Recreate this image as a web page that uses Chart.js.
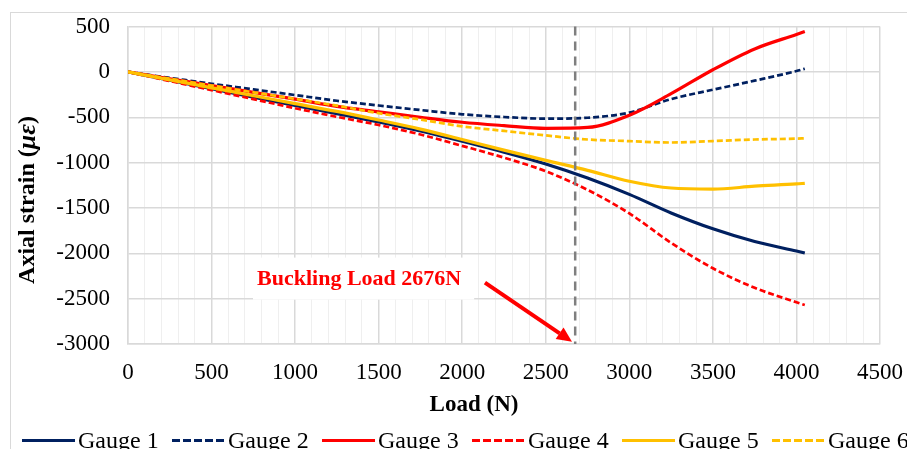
<!DOCTYPE html>
<html><head><meta charset="utf-8">
<script src="https://cdn.jsdelivr.net/npm/chart.js@4/dist/chart.umd.min.js"></script>
<style>html,body{margin:0;padding:0;background:#fff;overflow:hidden}</style>
</head><body>
<canvas id="c" width="907" height="449"></canvas>
<script>
// ---- data ----
const loads  = [0,250,500,750,1000,1250,1500,1750,2000,2250,2500,2750,3000,3250,3500,3750,4000,4050];
const gauge1 = [0,-92,-185,-277,-370,-460,-550,-650,-765,-885,-1015,-1170,-1350,-1555,-1730,-1870,-1975,-1996];
const gauge2 = [0,-65,-130,-192,-255,-318,-370,-420,-467,-497,-515,-505,-448,-300,-196,-96,10,36];
const gauge3 = [0,-75,-150,-225,-300,-380,-440,-500,-555,-592,-622,-612,-478,-240,24,254,413,445];
const gauge4 = [0,-100,-200,-300,-400,-495,-585,-690,-815,-945,-1095,-1300,-1560,-1885,-2165,-2380,-2540,-2570];
const gauge5 = [0,-88,-175,-262,-350,-435,-530,-630,-745,-862,-975,-1085,-1205,-1280,-1292,-1260,-1235,-1228];
const gauge6 = [0,-75,-150,-225,-298,-372,-455,-525,-600,-650,-700,-745,-763,-778,-762,-745,-735,-731];
const seriesNames = ['Gauge 1','Gauge 2','Gauge 3','Gauge 4','Gauge 5','Gauge 6'];
const xTickLabels = ['0','500','1000','1500','2000','2500','3000','3500','4000','4500'];
const yTickLabels = ['500','0','-500','-1000','-1500','-2000','-2500','-3000'];
const bucklingLoad = 2676;
const bucklingText = 'Buckling Load 2676N';
// annotation anchor points in data units
const arrowFrom = {x: 2136, y: -2323};
const arrowTo   = {x: 2657, y: -2975};
const labelAt   = {x: 772,  y: -2290};

const NAVY='#002060', RED='#FF0000', GOLD='#FFC000';
const allSeries = [gauge1,gauge2,gauge3,gauge4,gauge5,gauge6];
const colors = [NAVY,NAVY,RED,RED,GOLD,GOLD];
const dashed = [false,true,false,true,false,true];

const datasets = allSeries.map((s,i)=>({
  label: seriesNames[i],
  data: loads.map((l,k)=>({x:l, y:s[k]})),
  borderColor: colors[i],
  backgroundColor: colors[i],
  borderWidth: dashed[i] ? 2.7 : 3.2,
  borderDash: dashed[i] ? [6,3] : [],
  pointRadius: 0,
  cubicInterpolationMode: 'monotone',
  fill: false,
  order: 6 - i
}));

const xMin = Number(xTickLabels[0]), xMax = Number(xTickLabels[xTickLabels.length-1]);
const yMax = Number(yTickLabels[0]), yMin = Number(yTickLabels[yTickLabels.length-1]);
const xMajor = Number(xTickLabels[1]) - xMin;
const xMinorStep = xMajor / 5;
const yStep = Number(yTickLabels[0]) - Number(yTickLabels[1]);

const SERIF = '"Liberation Serif","Times New Roman",serif';

const extras = {
  id: 'extras',
  beforeDraw(chart){
    const ctx = chart.ctx;
    ctx.save();
    ctx.fillStyle = '#fff'; ctx.fillRect(0,0,chart.width,chart.height);
    ctx.strokeStyle = '#d9d9d9'; ctx.lineWidth = 1;
    ctx.strokeRect(10.5, 12.5, 2000, 2000);
    ctx.restore();
  },
  afterDatasetsDraw(chart){
    const {ctx, scales:{x,y}, chartArea:a} = chart;
    ctx.save();
    // buckling load vertical dashed line
    const px = x.getPixelForValue(bucklingLoad);
    ctx.strokeStyle = '#7f7f7f'; ctx.lineWidth = 2.5; ctx.setLineDash([9,6]);
    ctx.beginPath(); ctx.moveTo(px, a.top); ctx.lineTo(px, a.bottom); ctx.stroke();
    ctx.setLineDash([]);
    // label with white box
    ctx.font = 'bold 22px ' + SERIF;
    const tx = x.getPixelForValue(labelAt.x), ty = y.getPixelForValue(labelAt.y);
    const tw = ctx.measureText(bucklingText).width;
    ctx.fillStyle = '#fff';
    ctx.fillRect(tx - 4, ty - 22, tw + 17, 42);
    ctx.fillStyle = RED; ctx.textBaseline = 'middle'; ctx.textAlign = 'left';
    ctx.fillText(bucklingText, tx, ty);
    // arrow
    const x1 = x.getPixelForValue(arrowFrom.x), y1 = y.getPixelForValue(arrowFrom.y);
    const x2 = x.getPixelForValue(arrowTo.x),   y2 = y.getPixelForValue(arrowTo.y);
    const ang = Math.atan2(y2-y1, x2-x1);
    const hl = 15, hw = 7;
    const bx = x2 - hl*Math.cos(ang), by = y2 - hl*Math.sin(ang);
    ctx.strokeStyle = RED; ctx.lineWidth = 4; ctx.lineCap = 'butt';
    ctx.beginPath(); ctx.moveTo(x1,y1); ctx.lineTo(bx,by); ctx.stroke();
    ctx.fillStyle = RED;
    ctx.beginPath();
    ctx.moveTo(x2,y2);
    ctx.lineTo(bx + hw*Math.sin(ang), by - hw*Math.cos(ang));
    ctx.lineTo(bx - hw*Math.sin(ang), by + hw*Math.cos(ang));
    ctx.closePath(); ctx.fill();
    ctx.restore();
  },
  afterDraw(chart){
    const ctx = chart.ctx;
    ctx.save();
    // x axis title
    ctx.fillStyle = '#000';
    ctx.font = 'bold 23px ' + SERIF;
    ctx.textAlign = 'center'; ctx.textBaseline = 'middle';
    ctx.fillText('Load (N)', 474, 405);
    // y axis title (mixed fonts)
    ctx.translate(28, 200); ctx.rotate(-Math.PI/2);
    const parts = [
      ['Axial strain (', 'bold 24px ' + SERIF],
      ['\u03BC\u03B5', 'bold italic 26px ' + SERIF],
      [')', 'bold 24px ' + SERIF]
    ];
    let total = 0;
    parts.forEach(p=>{ ctx.font = p[1]; p.push(ctx.measureText(p[0]).width); total += p[2]; });
    let cx = -total/2;
    ctx.textAlign = 'left';
    parts.forEach(p=>{ ctx.font = p[1]; ctx.fillText(p[0], cx, 0); cx += p[2]; });
    ctx.restore();
    // legend
    ctx.save();
    ctx.font = '24px ' + SERIF; ctx.textBaseline = 'alphabetic'; ctx.textAlign = 'left';
    chart.data.datasets.forEach((ds,i)=>{
      const x0 = 22 + 150*i, ly = 440.5;
      ctx.strokeStyle = ds.borderColor; ctx.lineWidth = 3;
      ctx.setLineDash(dashed[i] ? [8,3] : []);
      ctx.beginPath(); ctx.moveTo(x0, ly); ctx.lineTo(x0+53, ly); ctx.stroke();
      ctx.setLineDash([]);
      ctx.fillStyle = '#000';
      ctx.fillText(ds.label, x0 + 56, 448);
    });
    ctx.restore();
  }
};

new Chart(document.getElementById('c'), {
  type: 'line',
  data: { datasets },
  options: {
    responsive: false, animation: false,
    layout: { padding: { left: 0, top: 26.6, right: 27, bottom: 45 } },
    plugins: { legend: { display: false }, tooltip: { enabled: false } },
    scales: {
      x: {
        type: 'linear', min: xMin, max: xMax,
        afterBuildTicks: s => { const t=[]; for (let v=xMin; v<=xMax+1e-9; v+=xMinorStep) t.push({value: Math.round(v)}); s.ticks = t; },
        afterFit: s => { s.height = 60; s.paddingLeft = 0; s.paddingRight = 0; s.paddingTop = 0; s.paddingBottom = 0; },
        ticks: { autoSkip: false, maxRotation: 0, padding: 15, color: '#000',
          font: { family: SERIF, size: 23 },
          callback: v => (v % xMajor === 0 ? xTickLabels[Math.round((v - xMin)/xMajor)] : '') },
        grid: { drawTicks: false,
          color: c => (c.tick && c.tick.value % xMajor === 0) ? '#d9d9d9' : '#efefef',
          lineWidth: c => (c.tick && c.tick.value % xMajor === 0) ? 1.5 : 1 },
        border: { display: true, color: '#d9d9d9', width: 1.5 }
      },
      y: {
        type: 'linear', min: yMin, max: yMax,
        afterBuildTicks: s => { s.ticks = yTickLabels.map(l => ({value: Number(l)})); },
        afterFit: s => { s.width = 128; s.paddingLeft = 0; s.paddingRight = 0; s.paddingTop = 0; s.paddingBottom = 0; },
        ticks: { padding: 18, color: '#000', font: { family: SERIF, size: 23 },
          callback: v => yTickLabels[Math.round((yMax - v)/yStep)] },
        grid: { drawTicks: false, color: '#d9d9d9', lineWidth: 1.5 },
        border: { display: true, color: '#d9d9d9', width: 1.5 }
      }
    }
  },
  plugins: [extras]
});
</script>
</body></html>
